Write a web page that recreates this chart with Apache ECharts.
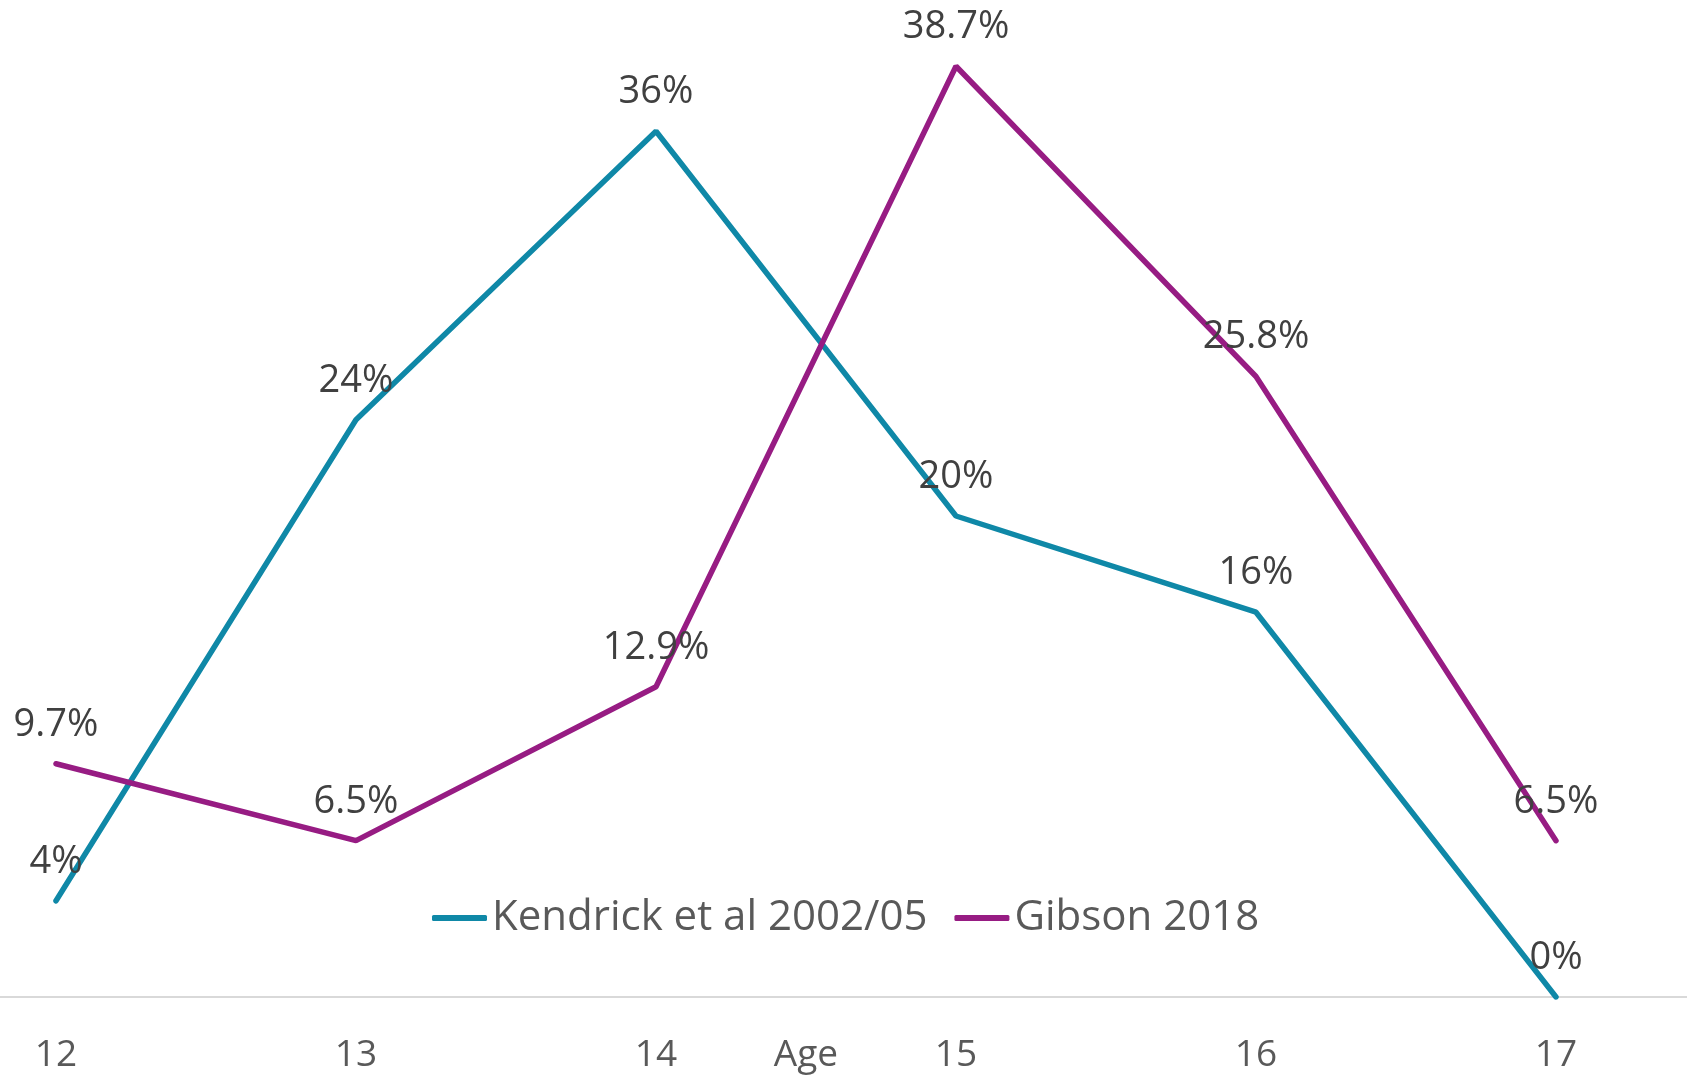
<!DOCTYPE html>
<html>
<head>
<meta charset="utf-8">
<title>Age</title>
<script src="https://cdn.jsdelivr.net/npm/echarts@6/dist/echarts.min.js"></script>
<style>
  html, body { margin: 0; padding: 0; background: #ffffff; }
  #chart { width: 1687px; height: 1076px; }
</style>
</head>
<body>
<div id="chart"></div>
<script>
// values (percent)
const ages = ['12', '13', '14', '15', '16', '17'];
const kendrick = [4, 24, 36, 20, 16, 0];
const gibson = [9.7, 6.5, 12.9, 38.7, 25.8, 6.5];
const seriesNames = ['Kendrick et al 2002/05', 'Gibson 2018'];

const FONT = '"Open Sans", "Liberation Sans", sans-serif';

const myChart = echarts.init(document.getElementById('chart'));

const makeLabel = function () {
    return {
        show: true,
        position: 'top',
        distance: 19,
        color: '#404040',
        fontSize: 38,
        fontFamily: FONT,
        formatter: function (p) { return p.value + '%'; }
    };
};

const option = {
    backgroundColor: '#ffffff',
    animation: false,
    grid: [
        { left: 56, right: 131, top: 35, bottom: 79, outerBoundsMode: 'none' },
        // only here so the axis line runs the full width
        { left: 0, right: 0, top: 35, bottom: 79, outerBoundsMode: 'none' }
    ],
    legend: {
        left: 427,
        top: 892,
        icon: 'roundRect',
        itemWidth: 55,
        itemHeight: 6,
        itemGap: 27,
        textStyle: {
            color: '#595959',
            fontSize: 42,
            fontFamily: FONT
        },
        data: seriesNames
    },
    xAxis: [{
        type: 'category',
        data: ages,
        boundaryGap: false,
        gridIndex: 0,
        name: 'Age',
        nameLocation: 'middle',
        nameGap: 40,
        nameMoveOverlap: false,
        nameTextStyle: {
            color: '#595959',
            fontSize: 37,
            fontFamily: FONT,
            verticalAlign: 'top'
        },
        axisLine: { show: false },
        axisTick: { show: false },
        axisLabel: {
            color: '#595959',
            fontSize: 37,
            fontFamily: FONT,
            margin: 40
        },
        splitLine: { show: false }
    }, {
        type: 'value',
        gridIndex: 1,
        min: 0,
        max: 1,
        axisLine: { show: true, lineStyle: { color: '#d9d9d9', width: 2 } },
        axisTick: { show: false },
        axisLabel: { show: false },
        splitLine: { show: false }
    }],
    yAxis: [{
        type: 'value',
        gridIndex: 0,
        min: 0,
        max: 40,
        show: false
    }, {
        type: 'value',
        gridIndex: 1,
        min: 0,
        max: 1,
        show: false
    }],
    series: [{
        name: seriesNames[0],
        type: 'line',
        data: kendrick,
        color: '#0f88a7',
        symbol: 'circle',
        symbolSize: 2,
        lineStyle: { width: 5.5, cap: 'round' },
        label: makeLabel(),
        z: 2
    }, {
        name: seriesNames[1],
        type: 'line',
        data: gibson,
        color: '#971c83',
        symbol: 'circle',
        symbolSize: 2,
        lineStyle: { width: 5.5, cap: 'round' },
        label: makeLabel(),
        z: 3
    }]
};

myChart.setOption(option);
window.addEventListener('resize', function () { myChart.resize(); });
</script>
</body>
</html>
